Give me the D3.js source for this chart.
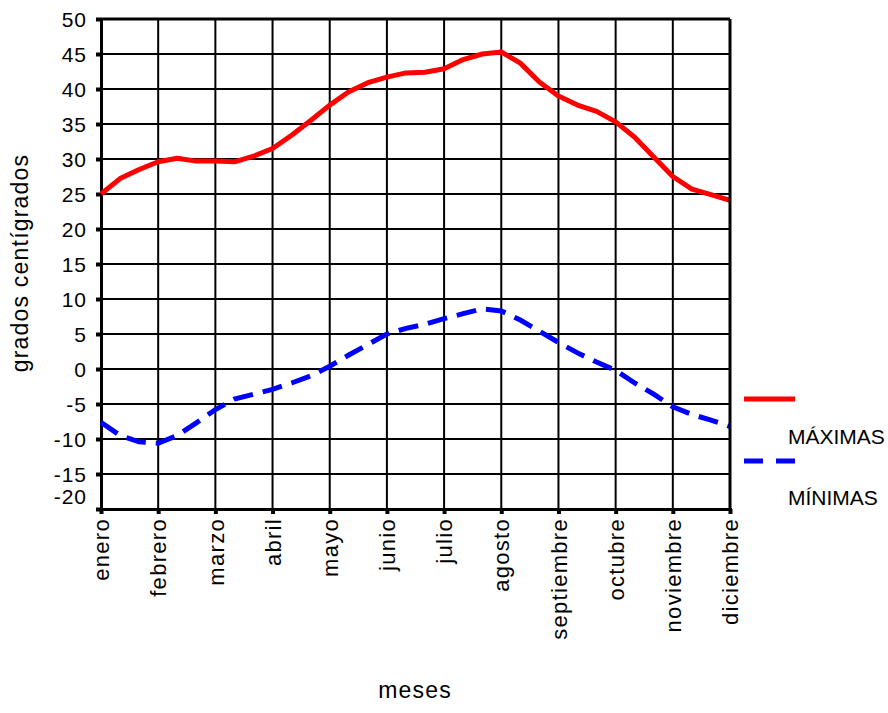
<!DOCTYPE html>
<html><head><meta charset="utf-8">
<script src="https://cdn.jsdelivr.net/npm/d3@7"></script>
<style>
body{margin:0;background:#fff;}
text{font-family:Arial,"Liberation Sans",sans-serif;fill:#000;}
</style></head>
<body><svg id="c" width="888" height="713"></svg>
<script>
const months = ["enero","febrero","marzo","abril","mayo","junio","julio","agosto","septiembre","octubre","noviembre","diciembre"];
const yTicks = [50,45,40,35,30,25,20,15,10,5,0,-5,-10,-15,-20];
// samples every third of a month
const maximas = [25.0,27.2,28.5,29.6,30.1,29.7,29.7,29.6,30.4,31.5,33.4,35.5,37.7,39.6,40.9,41.7,42.3,42.4,42.9,44.2,45.0,45.3,43.7,41.0,39.0,37.7,36.8,35.3,33.1,30.3,27.5,25.7,24.9,24.1];
const minimas = [-7.6,-9.5,-10.4,-10.6,-9.5,-7.7,-5.8,-4.3,-3.6,-2.9,-2.0,-1.0,0.4,2.0,3.5,5.0,5.8,6.4,7.2,7.9,8.6,8.3,7.0,5.4,3.8,2.3,1.0,-0.2,-2.0,-3.6,-5.4,-6.5,-7.3,-8.2];
const seriesNames = ["MÁXIMAS","MÍNIMAS"];
const stepsPerMonth = 3;

const svg = d3.select("#c");
const x = d3.scaleLinear().domain([0, months.length-1]).range([101, 730]);
const y = d3.scaleLinear().domain([-20, 50]).range([509, 19]);

// grid
const g = svg.append("g");
g.selectAll("line.h").data(yTicks.filter(v=>v>-20)).enter().append("line")
  .attr("x1", x(0)).attr("x2", x(months.length-1))
  .attr("y1", d=>y(d)).attr("y2", d=>y(d))
  .attr("stroke","#000").attr("stroke-width",2);
g.selectAll("line.v").data(months.slice(1)).enter().append("line")
  .attr("x1", (d,i)=>x(i+1)).attr("x2", (d,i)=>x(i+1))
  .attr("y1", y(50)).attr("y2", y(-20))
  .attr("stroke","#000").attr("stroke-width",2);

// y axis
const ya = svg.append("g").attr("transform",`translate(${x(0)},0)`)
  .call(d3.axisLeft(y).tickValues(yTicks).tickSize(5).tickPadding(9).tickFormat(d=>d));
ya.select(".domain").attr("stroke","#000").attr("stroke-width",3);
ya.selectAll(".tick line").attr("stroke","#000").attr("stroke-width",4);
ya.selectAll(".tick text").style("font-size","21px").style("font-family","Arial, 'Liberation Sans', sans-serif")
  .attr("letter-spacing","1px")
  .attr("dy", d=> d===-20 ? "-0.25em" : "0.35em");

// x axis
const xa = svg.append("g").attr("transform",`translate(0,${y(-20)})`)
  .call(d3.axisBottom(x).tickValues(d3.range(months.length)).tickSize(5).tickFormat(i=>months[i]));
xa.select(".domain").attr("stroke","#000").attr("stroke-width",3);
xa.selectAll(".tick line").attr("stroke","#000").attr("stroke-width",4);
xa.selectAll(".tick text").style("font-size","22px").style("font-family","Arial, 'Liberation Sans', sans-serif")
  .attr("letter-spacing","1.3px")
  .attr("text-anchor","end").attr("transform","rotate(-90)")
  .attr("x",-9).attr("y",0).attr("dy","0.35em");

// lines
const line = d3.line().x((d,i)=>x(i/stepsPerMonth)).y(d=>y(d));
svg.append("path").datum(maximas).attr("d",line)
  .attr("fill","none").attr("stroke","#ff0000").attr("stroke-width",5).attr("stroke-linejoin","round");
svg.append("path").datum(minimas).attr("d",line)
  .attr("fill","none").attr("stroke","#0000ff").attr("stroke-width",5).attr("stroke-dasharray","20,10");

// right & top border
svg.append("line").attr("x1",x(0)).attr("x2",x(11)).attr("y1",y(50)).attr("y2",y(50)).attr("stroke","#000").attr("stroke-width",3);
svg.append("line").attr("x1",x(11)).attr("x2",x(11)).attr("y1",y(50)).attr("y2",y(-20)).attr("stroke","#000").attr("stroke-width",3);

// titles
svg.append("text").attr("transform","translate(33,263) rotate(-90)").attr("text-anchor","middle")
  .attr("dy","-0.2em").style("font-size","23px").attr("letter-spacing","1.2px").text("grados centígrados");
svg.append("text").attr("x",415).attr("y",698).attr("text-anchor","middle")
  .style("font-size","23px").attr("letter-spacing","1.2px").text("meses");

// legend
const leg = svg.append("g");
leg.append("line").attr("x1",744).attr("x2",795).attr("y1",399).attr("y2",399)
  .attr("stroke","#ff0000").attr("stroke-width",5);
leg.append("line").attr("x1",744).attr("x2",795).attr("y1",461).attr("y2",461)
  .attr("stroke","#0000ff").attr("stroke-width",5).attr("stroke-dasharray","19,13");
leg.append("text").attr("x",788).attr("y",444).style("font-size","21px").text(seriesNames[0]);
leg.append("text").attr("x",788).attr("y",505).style("font-size","21px").text(seriesNames[1]);
</script></body></html>
